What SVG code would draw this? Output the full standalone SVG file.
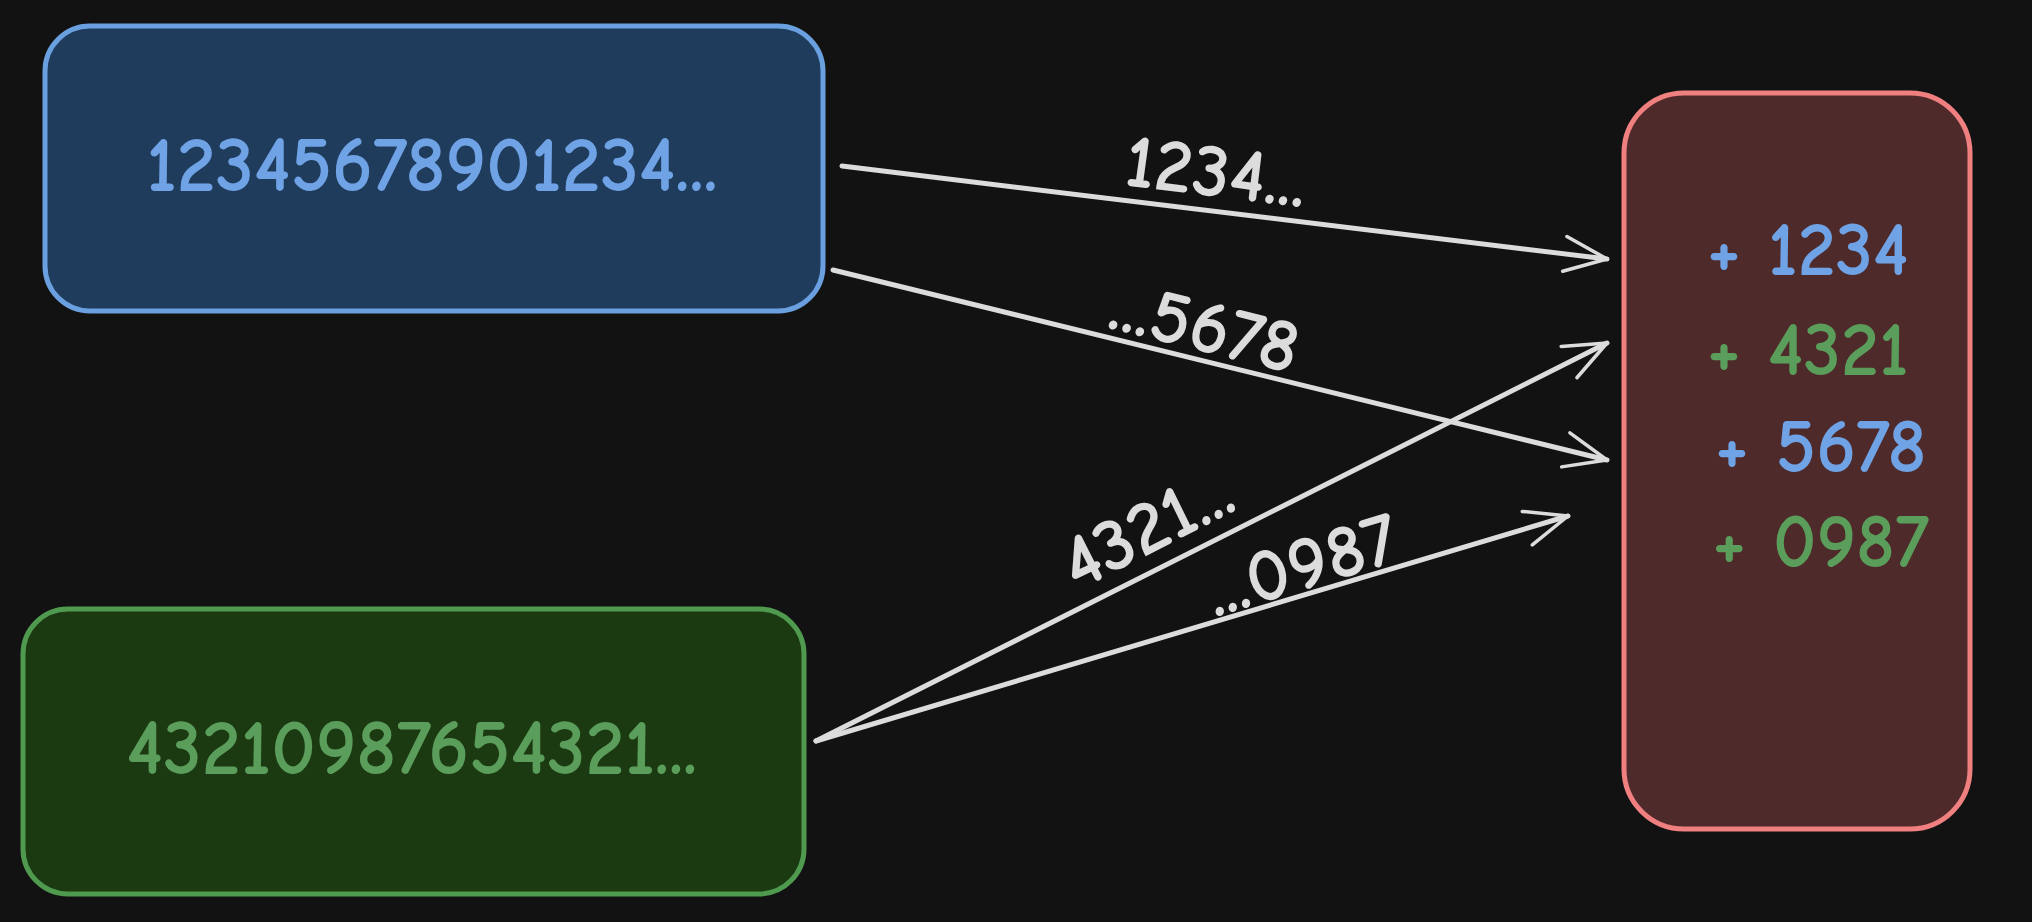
<svg xmlns="http://www.w3.org/2000/svg" width="2032" height="922" viewBox="0 0 2032 922">
<style>
.t{font-family:"Comic Neue","Liberation Sans",sans-serif;text-anchor:middle;dominant-baseline:central;font-weight:bold}
.b{fill:#6fa3e6}.g{fill:#5b9e5b}.w{fill:#dcdcdc}
.c{stroke:#dcdcdc;stroke-width:5;fill:none;stroke-linecap:round}
</style>
<defs><marker id="a" viewBox="0 0 20 20" refX="19" refY="10" markerWidth="50" markerHeight="50" orient="auto" markerUnits="userSpaceOnUse"><path d="M2 3 L19 10 L2 17" fill="none" stroke="#dcdcdc" stroke-width="1.4" stroke-linecap="round" stroke-linejoin="round"/></marker></defs>
<rect width="2032" height="922" fill="#121212"/>
<g id="blue"><rect x="45" y="26" width="778" height="285" rx="45" fill="#1f3c5c" stroke="#6aa0e0" stroke-width="5"/><text class="t b" x="432" y="166" font-size="78">12345678901234...</text></g>
<g id="green"><rect x="23" y="609" width="781" height="285" rx="45" fill="#1b3a12" stroke="#4f9a4f" stroke-width="5"/><text class="t g" x="412" y="749" font-size="78">43210987654321...</text></g>
<g id="red"><rect x="1624" y="93" width="346" height="736" rx="60" fill="#4f2a2a" stroke="#f08080" stroke-width="5"/>
<text class="t b" x="1808" y="250" font-size="76">+ 1234</text>
<text class="t g" x="1808" y="350" font-size="76">+ 4321</text>
<text class="t b" x="1821" y="447" font-size="76">+ 5678</text>
<text class="t g" x="1821" y="542" font-size="76">+ 0987</text></g>
<g id="connectors">
<line class="c" x1="842" y1="166" x2="1607" y2="259" marker-end="url(#a)"/>
<line class="c" x1="833" y1="270" x2="1607" y2="460" marker-end="url(#a)"/>
<line class="c" x1="816" y1="741" x2="1607" y2="343" marker-end="url(#a)"/>
<line class="c" x1="816" y1="741" x2="1568" y2="516" marker-end="url(#a)"/>
<text class="t w" font-size="76" transform="translate(1216,172) rotate(7)">1234...</text>
<text class="t w" font-size="76" transform="translate(1205,327) rotate(14)">...5678</text>
<text class="t w" font-size="76" transform="translate(1147,528) rotate(-27)">4321...</text>
<text class="t w" font-size="76" transform="translate(1302,565) rotate(-17)">...0987</text>
</g>
</svg>
